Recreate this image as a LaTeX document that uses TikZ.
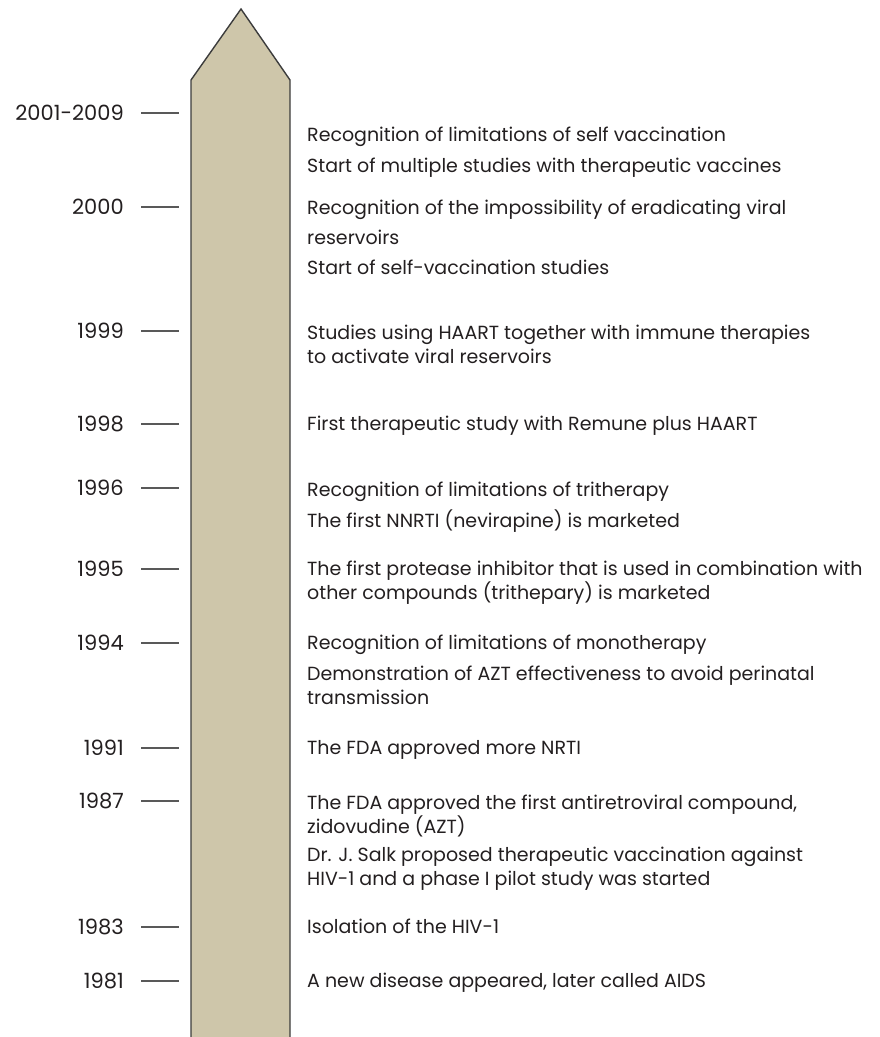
\documentclass[tikz,border=0pt]{standalone}
\usepackage{fontspec}
\setmainfont{Poppins}

\definecolor{barfill}{RGB}{206,198,170}
\definecolor{barline}{RGB}{60,60,60}
\definecolor{inkgray}{RGB}{35,31,32}

\begin{document}
\begin{tikzpicture}[
    x=1pt, y=-1pt,
    every node/.style={font=\fontsize{19}{24}\selectfont, text=inkgray},
    yearlabel/.style={anchor=east, inner sep=0pt, font=\fontsize{21}{24}\selectfont},
    eventtext/.style={anchor=north west, inner sep=0pt, align=left},
    tickline/.style={draw=barline!85, line width=1.4pt},
    arrowbar/.style={draw=barline, line width=1.4pt, line join=miter}
]

    \useasboundingbox (0,0) rectangle (879,1037);

    % --------------------------------------------------------
    % 1. THE ARROW BAR
    % --------------------------------------------------------

    \fill[barfill] (191,1040) -- (191,80) -- (241,9) -- (290,80) -- (290,1040) -- cycle;
    \draw[arrowbar] (191,1040) -- (191,80) -- (241,9) -- (290,80) -- (290,1040);
    \coordinate (barleft) at (191,0);

    % --------------------------------------------------------
    % 2. YEAR LABELS
    % --------------------------------------------------------

    \node (y2001) [yearlabel] at (124,113) {2001-2009};
    \node (y2000) [yearlabel] at (124,207) {2000};
    \node (y1999) [yearlabel] at (124,331) {1999};
    \node (y1998) [yearlabel] at (124,424) {1998};
    \node (y1996) [yearlabel] at (124,488) {1996};
    \node (y1995) [yearlabel] at (124,569) {1995};
    \node (y1994) [yearlabel] at (124,643) {1994};
    \node (y1991) [yearlabel] at (124,748) {1991};
    \node (y1987) [yearlabel] at (124,801) {1987};
    \node (y1983) [yearlabel] at (124,927) {1983};
    \node (y1981) [yearlabel] at (124,981) {1981};

    % ticks between each year and the bar
    \foreach \yr in {2001,2000,1999,1998,1996,1995,1994,1991,1987,1983,1981}
        \draw[tickline] ([xshift=17pt]y\yr.east) -- ([xshift=-12pt]y\yr.east -| barleft);

    % --------------------------------------------------------
    % 3. EVENTS
    % --------------------------------------------------------

    % 2001-2009
    \node (selflimit) [eventtext] at (307,127) {Recognition of limitations of self vaccination};
    \node (multivacc) [eventtext] at (307,158) {Start of multiple studies with therapeutic vaccines};

    % 2000
    \node (reservoir) [eventtext] at (307,200) {Recognition of the impossibility of eradicating viral\\[6pt]reservoirs};
    \node (selfvacc) [eventtext] at (307,260) {Start of self-vaccination studies};

    % 1999
    \node (immune) [eventtext] at (307,325) {Studies using HAART together with immune therapies\\to activate viral reservoirs};

    % 1998
    \node (remune) [eventtext] at (307,416) {First therapeutic study with Remune plus HAART};

    % 1996
    \node (trilimit) [eventtext] at (307,482) {Recognition of limitations of tritherapy};
    \node (nnrti) [eventtext] at (307,510) {The first NNRTI (nevirapine) is marketed};

    % 1995
    \node (protease) [eventtext] at (307,561) {The first protease inhibitor that is used in combination with\\other compounds (trithepary) is marketed};

    % 1994
    \node (monolimit) [eventtext] at (307,635) {Recognition of limitations of monotherapy};
    \node (perinatal) [eventtext] at (307,666) {Demonstration of AZT effectiveness to avoid perinatal\\transmission};

    % 1991
    \node (nrti) [eventtext] at (307,740) {The FDA approved more NRTI};

    % 1987
    \node (azt) [eventtext] at (307,795) {The FDA approved the first antiretroviral compound,\\zidovudine (AZT)};
    \node (salk) [eventtext] at (307,847) {Dr. J. Salk proposed therapeutic vaccination against\\HIV-1 and a phase I pilot study was started};

    % 1983
    \node (isolation) [eventtext] at (307,919) {Isolation of the HIV-1};

    % 1981
    \node (aids) [eventtext] at (307,973) {A new disease appeared, later called AIDS};

\end{tikzpicture}
\end{document}
